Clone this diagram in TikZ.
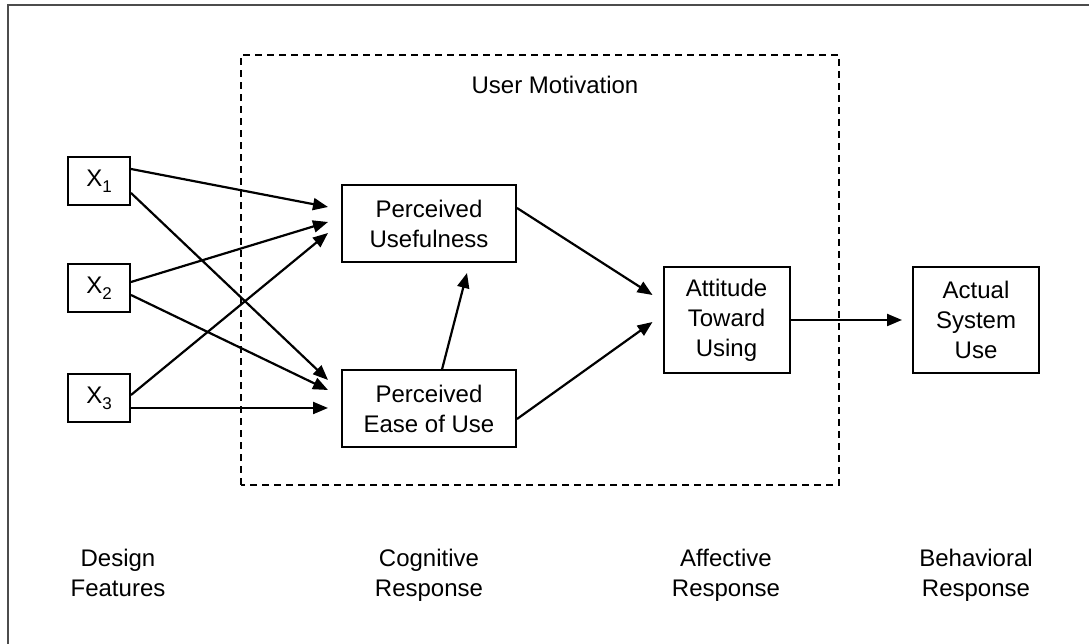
\documentclass[tikz,border=0pt]{standalone}
\usepackage{fontspec}
\setmainfont{Liberation Sans}
\usepackage{tikz}
\usetikzlibrary{arrows.meta}
\newcommand{\idx}[1]{\raisebox{-6pt}{\fontsize{17}{17}\selectfont #1}}

\begin{document}
\begin{tikzpicture}[x=1pt, y=1pt, every node/.style={font=\fontsize{24}{30}\selectfont, align=center}]
        \useasboundingbox (0,0) rectangle (1089,644);
        \tikzset{box/.style={draw, line width=2pt, inner sep=0pt, minimum width=126pt, minimum height=106pt}}
        \tikzset{xbox/.style={box, minimum width=62pt, minimum height=48pt}}
        \tikzset{cbox/.style={box, minimum width=174pt, minimum height=77pt}}
        % frame
        \draw[line width=2pt, black!70] (8,-10) -- (8,639) -- (1100,639);
        \draw[line width=2.2pt, dash pattern=on 7pt off 5pt] (241,159) rectangle (839,589);
        \node (um) at (555,559) {User Motivation};
        % boxes
        \node[xbox] (x1) at (99,463) {X\idx{1}};
        \node[xbox] (x2) at (99,355.5) {X\idx{2}};
        \node[xbox] (x3) at (99,245.5) {X\idx{3}};
        \node[cbox] (pu) at (429,420.5) {Perceived\\Usefulness};
        \node[cbox] (peou) at (429,235) {Perceived\\Ease of Use};
        \node[box] (att) at (726.5,324) {Attitude\\Toward\\Using};
        \node[box] (act) at (976,324) {Actual\\System\\Use};
        % bottom labels
        \node (df) at (118,67) {Design\\Features\strut};
        \node (cr) at (429,67) {Cognitive\\Response\strut};
        \node (ar) at (726,67) {Affective\\Response\strut};
        \node (br) at (976,67) {Behavioral\\Response\strut};
        % arrows
        \tikzset{mystyle/.style={-{Triangle[length=15pt,width=12pt]}, line width=2.2pt}}
        \path ([yshift=12pt]x1.east) edge [mystyle] ([xshift=-13pt,yshift=16.5pt]pu.west);
        \path ([yshift=6.5pt]x2.east) edge [mystyle] ([xshift=-13pt,yshift=1.5pt]pu.west);
        \path ([yshift=3.5pt]x3.east) edge [mystyle] ([xshift=-13pt,yshift=-9.5pt]pu.west);
        \path ([yshift=-12pt]x1.east) edge [mystyle] ([xshift=-13pt,yshift=29pt]peou.west);
        \path ([yshift=-6.5pt]x2.east) edge [mystyle] ([xshift=-13pt,yshift=19pt]peou.west);
        \path ([yshift=-9.5pt]x3.east) edge [mystyle] ([xshift=-13pt,yshift=1pt]peou.west);
        \path ([xshift=13pt]peou.north) edge [mystyle] ([xshift=38pt,yshift=-10pt]pu.south);
        \path ([yshift=15.5pt]pu.east) edge [mystyle] ([xshift=-10pt,yshift=25pt]att.west);
        \path ([yshift=-10pt]peou.east) edge [mystyle] ([xshift=-10pt,yshift=-2pt]att.west);
        \path (att) edge [mystyle, shorten >=10pt] (act);
      \end{tikzpicture}
\end{document}
